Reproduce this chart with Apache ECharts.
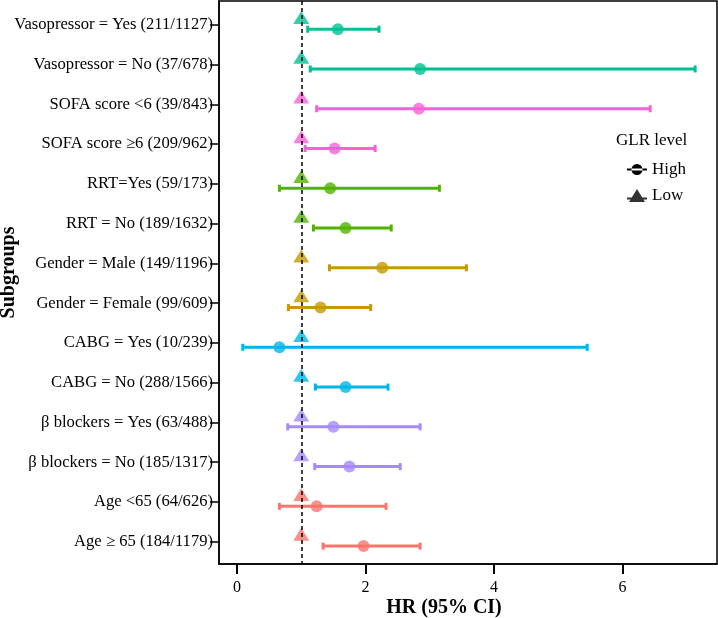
<!DOCTYPE html>
<html>
<head>
<meta charset="utf-8">
<script src="https://cdn.jsdelivr.net/npm/echarts@6/dist/echarts.min.js"></script>
<style>html,body{margin:0;padding:0;background:#fff}#c{width:718px;height:618px}</style>
</head>
<body>
<div id="c"></div>
<script>
const categories = ['Vasopressor = Yes (211/1127)', 'Vasopressor = No (37/678)', 'SOFA score <6 (39/843)', 'SOFA score \u22656 (209/962)', 'RRT=Yes (59/173)', 'RRT = No (189/1632)', 'Gender = Male (149/1196)', 'Gender = Female (99/609)', 'CABG = Yes (10/239)', 'CABG = No (288/1566)', '\u03b2 blockers = Yes (63/488)', '\u03b2 blockers = No (185/1317)', 'Age <65 (64/626)', 'Age \u2265 65 (184/1179)'];
const groups = ['Vasopressor', 'Vasopressor', 'SOFA', 'SOFA', 'RRT', 'RRT', 'Gender', 'Gender', 'CABG', 'CABG', 'beta', 'beta', 'Age', 'Age'];
const hrHigh = [1.57, 2.85, 2.83, 1.52, 1.45, 1.69, 2.26, 1.30, 0.66, 1.69, 1.50, 1.75, 1.24, 1.97];
const lowerHigh = [1.10, 1.14, 1.24, 1.06, 0.66, 1.19, 1.44, 0.80, 0.09, 1.22, 0.79, 1.21, 0.66, 1.34];
const upperHigh = [2.21, 7.13, 6.43, 2.15, 3.15, 2.40, 3.57, 2.08, 5.45, 2.35, 2.85, 2.54, 2.32, 2.85];
const hrLow = [1, 1, 1, 1, 1, 1, 1, 1, 1, 1, 1, 1, 1, 1];
const xTicks = [0, 2, 4, 6];
const refLine = 1;

const groupColors = {
  Vasopressor: '#00C094', SOFA: '#FB61D7', RRT: '#53B400', Gender: '#C49A00',
  CABG: '#00B6EB', beta: '#A58AFF', Age: '#F8766D'
};
const dodge = 0.11;
const FONT = 'Liberation Serif';

const lowData = hrLow.map((v, i) => ({ value: [v, i - dodge], itemStyle: { color: groupColors[groups[i]] } }));
const highData = hrHigh.map((v, i) => ({ value: [v, i + dodge], itemStyle: { color: groupColors[groups[i]] } }));
const barData = hrHigh.map((v, i) => ({ value: [lowerHigh[i], upperHigh[i], i + dodge], itemStyle: { color: groupColors[groups[i]] } }));

const chart = echarts.init(document.getElementById('c'), null, { renderer: 'canvas' });
chart.setOption({
  animation: false,
  textStyle: { fontFamily: FONT },
  grid: { left: 219, right: 1, top: 1, bottom: 54, show: true, borderColor: '#000', borderWidth: 1.5, backgroundColor: '#fff', containLabel: false, outerBoundsMode: 'none' },
  title: {
    text: 'GLR level', left: 611, top: 127,
    textStyle: { fontFamily: FONT, fontSize: 17, fontWeight: 'normal', color: '#000' }
  },
  legend: {
    orient: 'vertical', left: 622, top: 156, itemGap: 9, itemWidth: 20, itemHeight: 13,
    textStyle: { fontFamily: FONT, fontSize: 17, color: '#000' },
    data: [
      { name: 'High', icon: 'path://M0,5.5h20v2h-20z M10,1a5.5,5.5 0 1,0 0.01,0z', itemStyle: { color: '#000' } },
      { name: 'Low', icon: 'path://M0,8.5h20v2h-20z M10,0L18,13L2,13z', itemStyle: { color: '#000' } }
    ]
  },
  xAxis: {
    type: 'value', min: -0.28, max: 7.47,
    name: 'HR (95% CI)', nameLocation: 'middle', nameGap: 34, nameMoveOverlap: false,
    nameTextStyle: { fontFamily: FONT, fontSize: 20, fontWeight: 'bold', color: '#000', padding: [0, 48, 0, 0] },
    splitLine: { show: false },
    axisLine: { show: true, onZero: false, lineStyle: { color: '#000', width: 1.5 } },
    axisTick: { show: true, length: 10, lineStyle: { color: '#000', width: 2 }, customValues: xTicks },
    axisLabel: { fontFamily: FONT, fontSize: 16, color: '#000', margin: 16, customValues: xTicks }
  },
  yAxis: {
    type: 'value', min: -0.6, max: 13.56, inverse: true,
    name: 'Subgroups', nameLocation: 'middle', nameRotate: 90, nameGap: 200, nameMoveOverlap: false,
    nameTextStyle: { fontFamily: FONT, fontSize: 20, fontWeight: 'bold', color: '#000', padding: [0, 0, 0, 20] },
    splitLine: { show: false },
    axisLine: { show: true, onZero: false, lineStyle: { color: '#000', width: 1.5 } },
    axisTick: { show: true, length: 9, lineStyle: { color: '#000', width: 1.5 }, customValues: categories.map((c, i) => i) },
    axisLabel: {
      fontFamily: FONT, fontSize: 16.6, color: '#000', margin: 6,
      customValues: categories.map((c, i) => i),
      formatter: v => categories[Math.round(v)] || ''
    }
  },
  series: [
    {
      name: 'High', type: 'custom', z: 3,
      data: barData,
      encode: { x: [0, 1], y: 2 },
      renderItem: function (params, api) {
        const p1 = api.coord([api.value(0), api.value(2)]);
        const p2 = api.coord([api.value(1), api.value(2)]);
        const color = api.visual('color');
        const lw = 3;
        return {
          type: 'group',
          children: [
            { type: 'line', shape: { x1: p1[0], y1: p1[1], x2: p2[0], y2: p2[1] }, style: { stroke: color, lineWidth: lw } },
            { type: 'rect', shape: { x: p1[0] - 1.5, y: p1[1] - 3.5, width: 3, height: 7 }, style: { fill: color } },
            { type: 'rect', shape: { x: p2[0] - 1.5, y: p2[1] - 3.5, width: 3, height: 7 }, style: { fill: color } }
          ]
        };
      }
    },
    {
      name: 'High', type: 'scatter', z: 4, symbol: 'circle', symbolSize: 12,
      data: highData
    },
    {
      name: 'Low', type: 'scatter', z: 4, symbol: 'triangle', symbolSize: [16, 13], symbolOffset: [0, -3],
      data: lowData,
      markLine: {
        silent: true, symbol: ['none', 'none'], label: { show: false }, z: 10,
        lineStyle: { color: '#000', type: [4, 3], width: 1.5 },
        data: [{ xAxis: refLine }]
      }
    }
  ]
});
</script>
</body>
</html>
